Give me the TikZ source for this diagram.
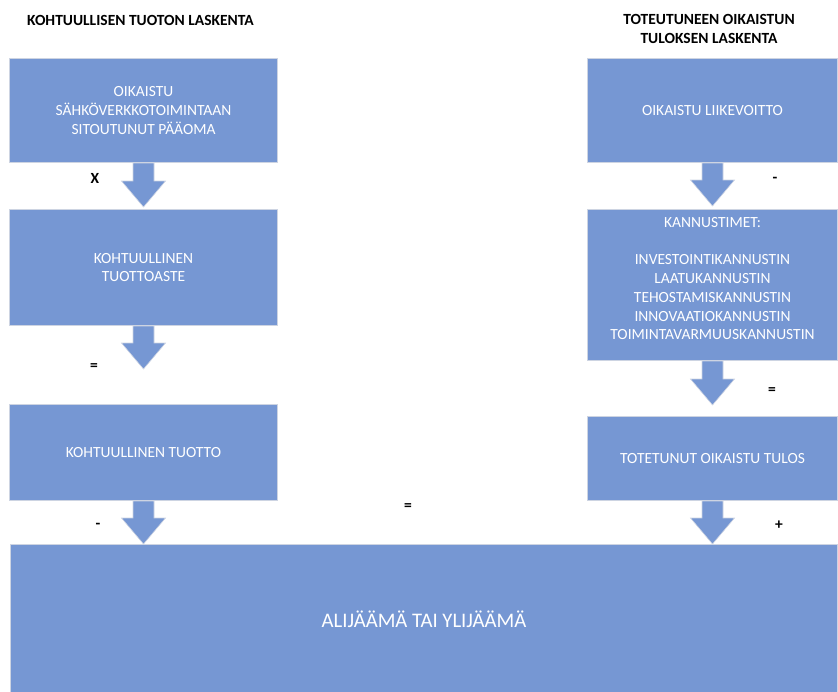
\documentclass[tikz,border=0pt]{standalone}
\usepackage{fontspec}
\setmainfont{Carlito}
\usetikzlibrary{calc}
\definecolor{boxblue}{RGB}{118,151,211}
\definecolor{boxedge}{RGB}{205,212,226}
\newcommand\blockarrow[3]{% #1 source node, #2 length, #3 tip name
  \path[barrow] ($(#1.south)+(-10.5,0)$) -- ++(21,0) -- ++(0,{#2-26}) -- ++(11.5,0)
    -- ++(-22,26) coordinate (#3) -- ++(-22,-26) -- ++(11.5,0) -- cycle;}
\begin{document}
\begin{tikzpicture}[x=1pt,y=-1pt,
  box/.style={draw=boxedge, line width=1pt, fill=boxblue, anchor=north west,
    inner sep=0pt, text=white, align=center, font=\fontsize{15.5}{18.8}\selectfont},
  boxtext/.style={text=white, align=center, inner sep=0pt, font=\fontsize{15.5}{18.8}\selectfont},
  ttl/.style={font=\fontsize{15.5}{19}\selectfont\bfseries, align=center, inner sep=0pt},
  op/.style={font=\fontsize{15.5}{19}\selectfont\bfseries, inner sep=0pt},
  barrow/.style={fill=boxblue, draw=boxedge, line width=0.6pt}]
\useasboundingbox (0,0) rectangle (838,691);

% titles
\node[ttl, anchor=west] (t1) at (27,20) {KOHTUULLISEN TUOTON LASKENTA};
\node[ttl] (t2) at (709,28.5) {TOTEUTUNEEN OIKAISTUN\\TULOKSEN LASKENTA};

% left column
\node[box, minimum width=268pt, minimum height=104pt] (l1) at (9,58)
  {OIKAISTU\\SÄHKÖVERKKOTOIMINTAAN\\SITOUTUNUT PÄÄOMA};
\node[box, minimum width=268pt, minimum height=116pt] (l2) at (9,209)
  {KOHTUULLINEN\\TUOTTOASTE};
\node[box, minimum width=268pt, minimum height=96pt] (l3) at (9,404)
  {KOHTUULLINEN TUOTTO};

% right column
\node[box, minimum width=250pt, minimum height=104pt] (r1) at (587,58)
  {OIKAISTU LIIKEVOITTO};
\node[box, minimum width=250pt, minimum height=151pt] (r2) at (587,209) {};
\node[boxtext] (r2t) at ($(r2.center)+(0,-6.5)$)
  {KANNUSTIMET:\\[18.8pt]INVESTOINTIKANNUSTIN\\LAATUKANNUSTIN\\TEHOSTAMISKANNUSTIN\\INNOVAATIOKANNUSTIN\\TOIMINTAVARMUUSKANNUSTIN};
\node[box, minimum width=250pt, minimum height=84pt] (r3) at (587,416)
  {TOTETUNUT OIKAISTU TULOS};

% bottom
\node[box, minimum width=827pt, minimum height=150pt,
  font=\fontsize{20.7}{25}\selectfont] (b) at (10,544) {ALIJÄÄMÄ TAI YLIJÄÄMÄ};

% block arrows
\blockarrow{l1}{44}{a1}
\blockarrow{l2}{43}{a2}
\blockarrow{l3}{43}{a3}
\blockarrow{r1}{43}{a4}
\blockarrow{r2}{44}{a5}
\blockarrow{r3}{43}{a6}

% operators
\node[op] (o1) at (95,178) {X};
\node[op] (o2) at (94,367) {=};
\node[op] (o3) at (98,526) {-};
\node[op] (o4) at (408,507) {=};
\node[op] (o5) at (775,180) {-};
\node[op] (o6) at (772,391) {=};
\node[op] (o7) at (779,525) {+};
\end{tikzpicture}
\end{document}
